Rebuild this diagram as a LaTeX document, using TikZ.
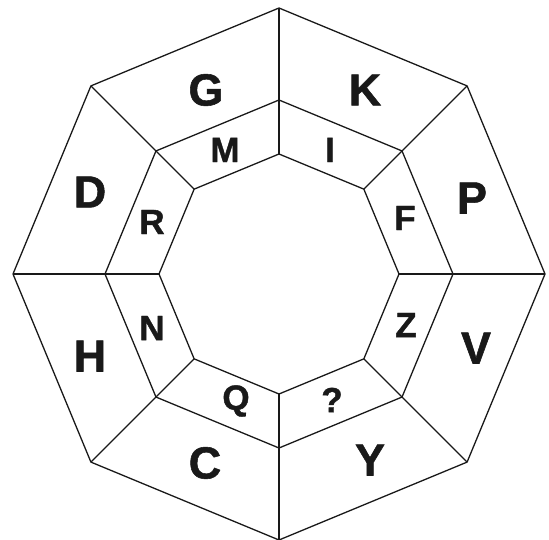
\documentclass[tikz,border=0pt]{standalone}
\usepackage{fontspec}
\setmainfont{Liberation Sans}
\newfontfamily\heavyfont{Liberation Sans}[BoldFeatures={FakeBold=1.2}]
\usetikzlibrary{calc}
\begin{document}
\begin{tikzpicture}[x=1pt,y=-1pt,
  edge/.style={line width=1.3pt, line join=miter, draw=black!90},
  big/.style={inner sep=0pt, font=\heavyfont\fontsize{45}{45}\selectfont\bfseries, text=black!90},
  small/.style={inner sep=0pt, font=\heavyfont\fontsize{35}{35}\selectfont\bfseries, text=black!90}]
\useasboundingbox (0,0) rectangle (549,540);
\coordinate (c) at (279,274);
\foreach \i in {0,...,7} {
  \coordinate (o\i) at ($(c)+({90-45*\i}:266)$);
  \coordinate (m\i) at ($(c)+({90-45*\i}:174)$);
  \coordinate (n\i) at ($(c)+({90-45*\i}:120)$);
}
\draw[edge] (o0)--(o1)--(o2)--(o3)--(o4)--(o5)--(o6)--(o7)--cycle;
\draw[edge] (m0)--(m1)--(m2)--(m3)--(m4)--(m5)--(m6)--(m7)--cycle;
\draw[edge] (n0)--(n1)--(n2)--(n3)--(n4)--(n5)--(n6)--(n7)--cycle;
\foreach \i in {0,...,7} {
  \draw[edge] (o\i)--(m\i)--(n\i);
}
% outer ring letters
\node[big] (lG) at (206,90) {G};
\node[big] (lK) at (365,90) {K};
\node[big] (lP) at (472,198) {P};
\node[big] (lV) at (476,348) {V};
\node[big] (lY) at (370,460) {Y};
\node[big] (lC) at (205,463) {C};
\node[big] (lH) at (90,356) {H};
\node[big] (lD) at (90,192) {D};
% inner ring letters
\node[small] (lM) at (225,150) {M};
\node[small] (lI) at (330,150) {I};
\node[small] (lF) at (405,218) {F};
\node[small] (lZ) at (406,325) {Z};
\node[small] (lq) at (332,400) {?};
\node[small] (lQ) at (236,401) {Q};
\node[small] (lN) at (152,328) {N};
\node[small] (lR) at (152,222) {R};
\end{tikzpicture}
\end{document}
